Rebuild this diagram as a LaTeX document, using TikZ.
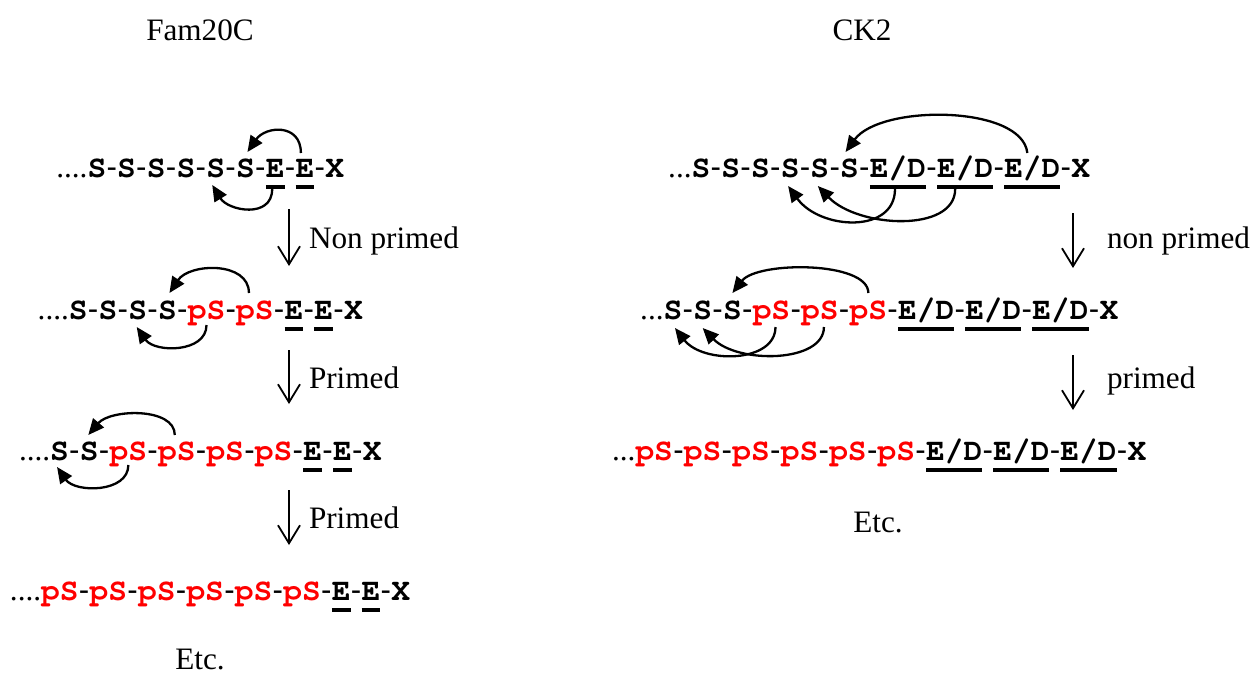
\documentclass[tikz,border=0pt]{standalone}
\usepackage{fontspec}
\setmainfont{Liberation Serif}
\newfontfamily\sansfam{Liberation Sans}
% slab-serif monospaced bold for the residues
\newcommand\courbold{\fontencoding{OT1}\fontfamily{pcr}\fontseries{b}\selectfont}
\usetikzlibrary{arrows.meta}
\definecolor{phos}{RGB}{255,0,0}

% One peptide row: leading dots, then residues joined by hyphens.
% #1 row name, #2 start of the first residue (on the baseline),
% #3 leading dots, #4 list of text/style pairs.
\newcommand\peprow[4]{%
  \node[lead, anchor=base east] (#1-0) at (#2) {#3};
  \coordinate (#1-c) at (#2);
  \foreach \t/\s [count=\i] in {#4}{%
    \ifnum\i>1
      \node[link, anchor=base west] (#1-h\i) at (#1-c) {\makebox[5.5pt]{-}};
      \coordinate (#1-c) at (#1-h\i.base east);
    \fi
    \node[\s, anchor=base west] (#1-\i) at (#1-c) {\t};
    \coordinate (#1-c) at (#1-\i.base east);
  }%
}
\newcommand\EDtxt{E/D}

\begin{document}
\begin{tikzpicture}[x=0.5pt,y=-0.5pt,
  txt/.style={font=\fontsize{15.6}{18}\selectfont, inner sep=0pt, outer sep=0pt},
  res/.style={txt, font=\fontsize{15.6}{18}\courbold},
  pres/.style={res, text=phos},
  ures/.style={res, append after command={([yshift=-5pt]\tikzlastnode.base west) edge[bar] ([yshift=-5pt]\tikzlastnode.base east)}},
  bar/.style={draw, line width=1.8pt, -},
  link/.style={txt, font=\fontsize{15.6}{18}\selectfont\sansfam},
  lead/.style={txt},
  hop/.style={draw, line width=1.15pt, -{Triangle[length=8pt,width=7pt]}},
  stepline/.style={draw, line width=0.9pt, -{Straight Barb[length=9pt,width=11pt]}},
  lab/.style={txt, anchor=base west},
  title/.style={txt, anchor=base}
]
\useasboundingbox (0,0) rectangle (1258,675);

% headings
\node[title] (fam) at (200,40) {Fam20C};
\node[title] (ck) at (862,40) {CK2};

% Fam20C rows
\peprow{L1}{87.5,177}{....}{S/res,S/res,S/res,S/res,S/res,S/res,E/ures,E/ures,X/res}
\peprow{L2}{68.9,319}{....}{S/res,S/res,S/res,S/res,pS/pres,pS/pres,E/ures,E/ures,X/res}
\peprow{L3}{50.2,460}{....}{S/res,S/res,pS/pres,pS/pres,pS/pres,pS/pres,E/ures,E/ures,X/res}
\peprow{L4}{41.2,600}{....}{pS/pres,pS/pres,pS/pres,pS/pres,pS/pres,pS/pres,E/ures,E/ures,X/res}

% CK2 rows
\peprow{R1}{691.6,177}{...}{S/res,S/res,S/res,S/res,S/res,S/res,\EDtxt/ures,\EDtxt/ures,\EDtxt/ures,X/res}
\peprow{R2}{663.6,319}{...}{S/res,S/res,S/res,pS/pres,pS/pres,pS/pres,\EDtxt/ures,\EDtxt/ures,\EDtxt/ures,X/res}
\peprow{R3}{635.5,460}{...}{pS/pres,pS/pres,pS/pres,pS/pres,pS/pres,pS/pres,\EDtxt/ures,\EDtxt/ures,\EDtxt/ures,X/res}

% recognition loops, Fam20C
\draw[hop] ([shift={(-4,-24)}]L1-8.base) .. controls +(0,-30) and +(18,-26) .. ([shift={(2,-25)}]L1-6.base);
\draw[hop] ([shift={(-3,12)}]L1-7.base) .. controls +(0,30) and +(16,26) .. ([shift={(-3.5,8)}]L1-5.base);
\draw[hop] ([shift={(-6,-26)}]L2-6.base) .. controls +(0,-32) and +(20,-30) .. ([shift={(2,-26)}]L2-4.base);
\draw[hop] ([shift={(0,6)}]L2-5.base) .. controls +(0,28) and +(18,26) .. ([shift={(-1,8)}]L2-3.base);
\draw[hop] ([shift={(-2,-25)}]L3-4.base) .. controls +(0,-28) and +(22,-26) .. ([shift={(-1,-25)}]L3-2.base);
\draw[hop] ([shift={(0,5)}]L3-3.base) .. controls +(0,28) and +(18,26) .. ([shift={(-2.5,7)}]L3-1.base);

% recognition loops, CK2
\draw[hop] ([shift={(-5,-24)}]R1-9.base) .. controls +(-5,-48) and +(35,-48) .. ([shift={(-4,-25)}]R1-6.base);
\draw[hop] ([shift={(-3,12)}]R1-7.base) .. controls +(0,45) and +(32,44) .. ([shift={(-2,9)}]R1-4.base);
\draw[hop] ([shift={(-10,12)}]R1-8.base) .. controls +(0,44) and +(40,42) .. ([shift={(-2,9)}]R1-5.base);
\draw[hop] ([shift={(0,-26)}]R2-6.base) .. controls +(0,-32) and +(25,-32) .. ([shift={(0,-26)}]R2-3.base);
\draw[hop] ([shift={(4,8)}]R2-4.base) .. controls +(0,36) and +(28,36) .. ([shift={(2,9)}]R2-1.base);
\draw[hop] ([shift={(4,8)}]R2-5.base) .. controls +(0,36) and +(35,36) .. ([shift={(0,9)}]R2-2.base);

% reaction steps
\coordinate (d1a) at (289,209); \coordinate (d1b) at (289,266);
\coordinate (d2a) at (289,350); \coordinate (d2b) at (289,404);
\coordinate (d3a) at (289,490); \coordinate (d3b) at (289,545);
\coordinate (d4a) at (1073,213); \coordinate (d4b) at (1073,268);
\coordinate (d5a) at (1073,355); \coordinate (d5b) at (1073,410);
\draw[stepline] (d1a) -- (d1b);
\draw[stepline] (d2a) -- (d2b);
\draw[stepline] (d3a) -- (d3b);
\draw[stepline] (d4a) -- (d4b);
\draw[stepline] (d5a) -- (d5b);
\node[lab] (s1) at (309,248) {Non primed};
\node[lab] (s2) at (309,388) {Primed};
\node[lab] (s3) at (309,528) {Primed};
\node[lab] (s4) at (1107,248) {non primed};
\node[lab] (s5) at (1107,388) {primed};

% continuation
\node[title] (etcL) at (200,669) {Etc.};
\node[title] (etcR) at (878,532) {Etc.};
\end{tikzpicture}
\end{document}
